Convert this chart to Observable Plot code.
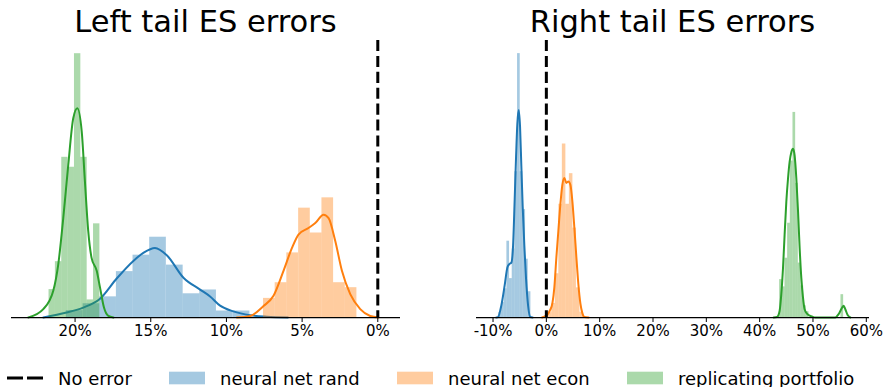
<!DOCTYPE html>
<html><head><meta charset="utf-8">
<script src="https://cdn.jsdelivr.net/npm/d3@7"></script>
<script src="https://cdn.jsdelivr.net/npm/@observablehq/plot@0.6"></script>
<style>
html,body{margin:0;padding:0;background:#fff;}
#root{position:relative;width:885px;height:387px;overflow:hidden;font-family:"DejaVu Sans",sans-serif;}
#root > *{position:absolute;}
</style></head><body><div id="root"></div>
<script>
// ---------- labels ----------
const titles = ["Left tail ES errors", "Right tail ES errors"];
const seriesNames = ["neural net rand", "neural net econ", "replicating portfolio"];
const refName = "No error";
const colors = ["#1f77b4", "#ff7f0e", "#2ca02c"];
const leftTicks = [20, 15, 10, 5, 0];
const rightTicks = [-10, 0, 10, 20, 30, 40, 50, 60];

// ---------- left panel: histograms (bin start in %, bin width in %, density per %) ----------
const leftRandLo = [8.45, 9.56, 10.66, 11.76, 12.86, 13.97, 15.07, 16.17, 17.27, 18.37, 19.48];
const leftRandW = 1.1;
const leftRandDens = [0.017, 0.017, 0.072, 0.062, 0.137, 0.210, 0.163, 0.120, 0.054, 0.036, 0.018];

const leftEconLo = [1.38, 2.15, 2.92, 3.69, 4.46, 5.24, 6.01, 6.78];
const leftEconW = 0.77;
const leftEconDens = [0.078, 0.091, 0.313, 0.221, 0.286, 0.169, 0.091, 0.050];

const leftRepLo = [18.36, 18.78, 19.20, 19.62, 20.04, 20.46, 20.88, 21.30];
const leftRepW = 0.42;
const leftRepDens = [0.245, 0.046, 0.419, 0.690, 0.393, 0.419, 0.146, 0.073];

// ---------- left panel: KDE curves ----------
const leftRandKdeX = [22.10, 20.56, 19.46, 18.35, 17.25, 16.15, 15.49, 14.72, 13.94, 12.84, 11.74, 11.08, 10.42, 9.54, 8.43, 7.33, 5.94];
const leftRandKdeY = [0, 0.013, 0.026, 0.049, 0.102, 0.148, 0.169, 0.182, 0.163, 0.104, 0.073, 0.055, 0.031, 0.016, 0.006, 0.002, 0];

const leftEconKdeX = [9.31, 8.43, 7.55, 6.89, 6.23, 5.67, 5.24, 4.58, 4.13, 3.58, 3.25, 2.81, 2.37, 1.82, 1.16, 0.50, -0.05];
const leftEconKdeY = [0, 0.004, 0.030, 0.057, 0.122, 0.182, 0.217, 0.234, 0.247, 0.269, 0.260, 0.200, 0.122, 0.061, 0.022, 0.004, 0];

const leftRepKdeX = [23.09, 22.10, 21.44, 21.11, 20.78, 20.45, 20.12, 19.85, 19.56, 19.35, 19.13, 18.91, 18.57, 18.35, 18.09, 17.80, 17.47];
const leftRepKdeY = [0, 0.022, 0.070, 0.139, 0.260, 0.399, 0.521, 0.547, 0.486, 0.356, 0.226, 0.156, 0.122, 0.078, 0.026, 0.004, 0];

// ---------- right panel: histograms ----------
const rightRandLo = [-8.9, -8.4, -7.9, -7.4, -6.9, -6.4, -5.9, -5.4, -4.9, -4.4, -3.9, -3.4];
const rightRandW = 0.5;
const rightRandDens = [0.010, 0.031, 0.059, 0.157, 0.080, 0.141, 0.300, 0.543, 0.300, 0.222, 0.120, 0.053];

const rightEconLo = [0.36, 1.02, 1.68, 2.34, 3.00, 3.66, 4.32, 4.98, 5.64, 6.30];
const rightEconW = 0.66;
const rightEconDens = [0.011, 0.029, 0.090, 0.233, 0.357, 0.233, 0.296, 0.184, 0.061, 0.011];

const rightRepLo = [43.75, 44.25, 44.75, 45.25, 45.75, 46.25, 46.75, 47.25, 47.75, 48.25, 48.75, 55.25];
const rightRepW = 0.5;
const rightRepDens = [0.078, 0.063, 0.122, 0.194, 0.322, 0.422, 0.276, 0.112, 0.065, 0.024, 0.012, 0.047];

// ---------- right panel: KDE curves ----------
const rightRandKdeX = [-9.38, -9.06, -8.44, -7.82, -7.31, -6.94, -6.56, -6.24, -5.94, -5.68, -5.44, -5.19, -4.93, -4.69, -4.44, -4.13, -3.81, -3.43, -3.0, -2.57];
const rightRandKdeY = [0, 0.001, 0.025, 0.066, 0.103, 0.110, 0.113, 0.148, 0.243, 0.331, 0.399, 0.427, 0.392, 0.311, 0.229, 0.148, 0.080, 0.025, 0.001, 0];

const rightEconKdeX = [-0.81, 0.13, 0.69, 1.13, 1.5, 1.88, 2.25, 2.63, 3.0, 3.38, 3.75, 4.13, 4.5, 4.88, 5.25, 5.63, 6.0, 6.38, 6.75, 7.13, 7.93];
const rightEconKdeY = [0, 0.005, 0.015, 0.029, 0.062, 0.124, 0.178, 0.233, 0.273, 0.287, 0.277, 0.280, 0.273, 0.239, 0.185, 0.124, 0.069, 0.029, 0.009, 0.001, 0];

const rightRepKdeX = [42.62, 43.26, 43.75, 44.06, 44.38, 44.68, 45.0, 45.32, 45.62, 45.94, 46.26, 46.56, 46.88, 47.2, 47.5, 47.81, 48.13, 48.43, 48.88, 49.18, 49.82, 50.44, 54.19, 54.81, 55.45, 55.75, 56.06, 56.5, 57.0];
const rightRepKdeY = [0, 0.001, 0.014, 0.048, 0.102, 0.170, 0.238, 0.286, 0.320, 0.340, 0.347, 0.333, 0.286, 0.218, 0.143, 0.082, 0.041, 0.017, 0.008, 0.005, 0.002, 0, 0, 0.007, 0.020, 0.024, 0.017, 0.005, 0];

// ---------- drawing ----------
const root = document.getElementById("root");
const FONT = "'DejaVu Sans', sans-serif";

function hist(lo, w, dens, color) {
  const rows = lo.map((v, i) => ({x1: v, x2: v + w, y: dens[i]}));
  return Plot.rectY(rows, {x1: "x1", x2: "x2", y: "y", fill: color, fillOpacity: 0.4});
}
function kde(xs, ys, color) {
  const rows = xs.map((v, i) => ({x: v, y: ys[i]}));
  return Plot.line(rows, {x: "x", y: "y", stroke: color, strokeWidth: 2, curve: "monotone-x"});
}

function panel({left, width, marginLeft, marginRight, xDomain, yMax, ticks, series}) {
  const marks = [];
  series.forEach(s => {
    marks.push(hist(s.lo, s.w, s.dens, s.color));
    marks.push(kde(s.kx, s.ky, s.color));
  });
  marks.push(Plot.ruleX([0], {stroke: "black", strokeWidth: 3, strokeDasharray: "11.1,4.8"}));
  marks.push(Plot.ruleY([0], {stroke: "black", strokeWidth: 1.25}));
  marks.push(Plot.axisX(ticks, {tickSize: 5, tickPadding: 3, tickFormat: d => `${d}%`, fontSize: 15, stroke: "black", fill: "black"}));
  const p = Plot.plot({
    width, height: 347,
    marginLeft, marginRight, marginTop: 40, marginBottom: 30,
    x: {domain: xDomain, label: null},
    y: {domain: [0, yMax], axis: null},
    style: {fontFamily: FONT, fontSize: "15px", color: "black", background: "transparent", overflow: "visible"},
    marks
  });
  p.style.left = left + "px";
  p.style.top = "0px";
  root.appendChild(p);
}

panel({
  left: 0, width: 442, marginLeft: 11, marginRight: 42,
  xDomain: [24.2, -1.5], yMax: 0.7245, ticks: leftTicks,
  series: [
    {lo: leftRandLo, w: leftRandW, dens: leftRandDens, kx: leftRandKdeX, ky: leftRandKdeY, color: colors[0]},
    {lo: leftEconLo, w: leftEconW, dens: leftEconDens, kx: leftEconKdeX, ky: leftEconKdeY, color: colors[1]},
    {lo: leftRepLo, w: leftRepW, dens: leftRepDens, kx: leftRepKdeX, ky: leftRepKdeY, color: colors[2]}
  ]
});
panel({
  left: 442, width: 443, marginLeft: 34, marginRight: 16,
  xDomain: [-13.1, 60.6], yMax: 0.570, ticks: rightTicks,
  series: [
    {lo: rightRandLo, w: rightRandW, dens: rightRandDens, kx: rightRandKdeX, ky: rightRandKdeY, color: colors[0]},
    {lo: rightEconLo, w: rightEconW, dens: rightEconDens, kx: rightEconKdeX, ky: rightEconKdeY, color: colors[1]},
    {lo: rightRepLo, w: rightRepW, dens: rightRepDens, kx: rightRepKdeX, ky: rightRepKdeY, color: colors[2]}
  ]
});

// ---------- titles and legend overlay ----------
const NS = "http://www.w3.org/2000/svg";
const ov = document.createElementNS(NS, "svg");
ov.setAttribute("width", 885); ov.setAttribute("height", 387);
ov.style.left = "0px"; ov.style.top = "0px"; ov.style.pointerEvents = "none";
root.appendChild(ov);
function el(tag, attrs, text) {
  const e = document.createElementNS(NS, tag);
  for (const k in attrs) e.setAttribute(k, attrs[k]);
  if (text != null) e.textContent = text;
  ov.appendChild(e);
  return e;
}
el("text", {x: 205.5, y: 32, "text-anchor": "middle", "font-family": FONT, "font-size": 30.5, fill: "black"}, titles[0]);
el("text", {x: 672.5, y: 32, "text-anchor": "middle", "font-family": FONT, "font-size": 30.5, fill: "black"}, titles[1]);

const ly = 378;
el("line", {x1: 7, x2: 43, y1: ly, y2: ly, stroke: "black", "stroke-width": 3, "stroke-dasharray": "16,4"});
el("text", {x: 58, y: ly + 6.5, "font-family": FONT, "font-size": 18, fill: "black"}, refName);
const legX = [169, 397, 627];
seriesNames.forEach((n, i) => {
  el("rect", {x: legX[i], y: ly - 6.3, width: 36, height: 12.6, fill: colors[i], "fill-opacity": 0.4});
  el("text", {x: legX[i] + 51, y: ly + 6.5, "font-family": FONT, "font-size": 18, fill: "black"}, n);
});
</script>
</body></html>
